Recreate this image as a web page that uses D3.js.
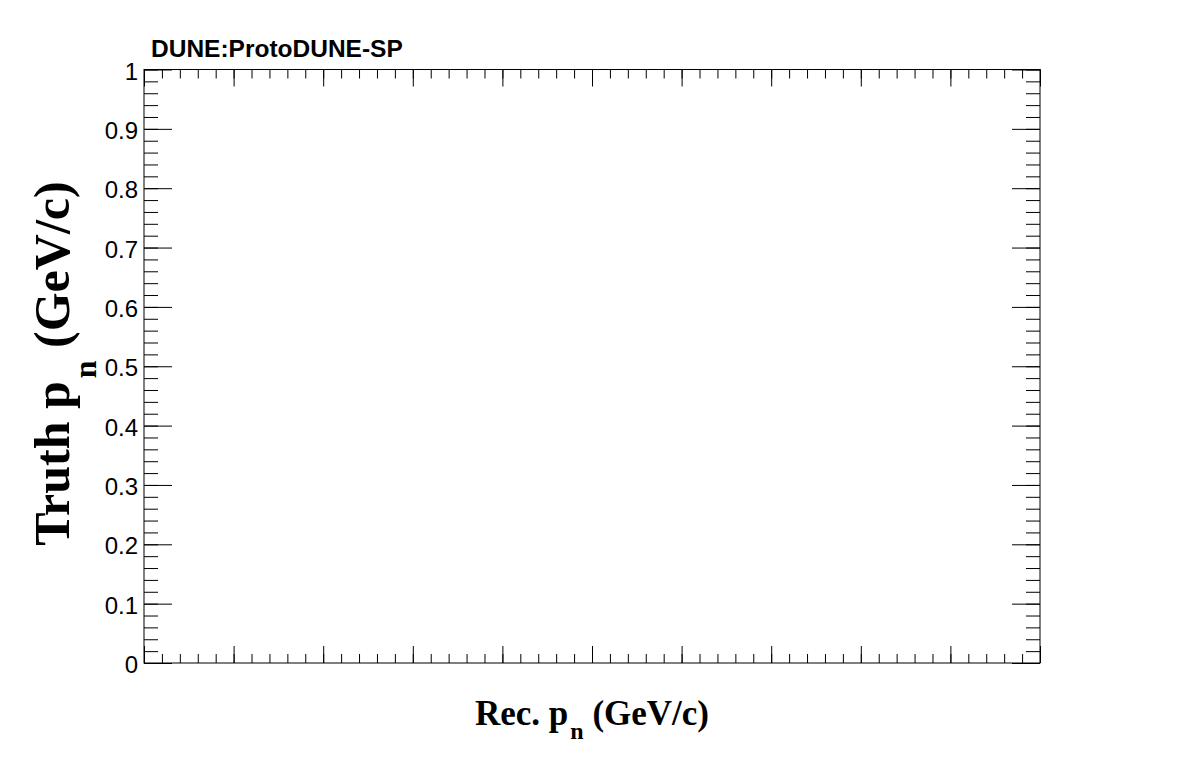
<!DOCTYPE html>
<html>
<head>
<meta charset="utf-8">
<script src="https://cdn.jsdelivr.net/npm/d3@7"></script>
<style>
  html, body { margin: 0; padding: 0; background: #fff; }
  svg { display: block; }
</style>
</head>
<body>
<svg id="chart" width="1196" height="772"></svg>
<script>
// ---- data ----
const xDomain = [0, 1];
const yDomain = [0, 1];
const xMajorTicks = [0, 0.1, 0.2, 0.3, 0.4, 0.5, 0.6, 0.7, 0.8, 0.9, 1];
const xMinorTicks = d3.range(0, 51).map(i => i / 50);
const yMajorTicks = [0, 0.1, 0.2, 0.3, 0.4, 0.5, 0.6, 0.7, 0.8, 0.9, 1];
const yTickLabels = ["0", "0.1", "0.2", "0.3", "0.4", "0.5", "0.6", "0.7", "0.8", "0.9", "1"];
const yMinorTicks = d3.range(0, 51).map(i => i / 50);
const titleText = "DUNE:ProtoDUNE-SP";
const xTitle = ["Rec. p", "n", " (GeV/c)"];
const yTitle = ["Truth p", "n", " (GeV/c)"];

// ---- layout ----
const m = { left: 144, top: 69.5, right: 1040, bottom: 663 };
const svg = d3.select("#chart");

const x = d3.scaleLinear().domain(xDomain).range([m.left, m.right]);
const y = d3.scaleLinear().domain(yDomain).range([m.bottom, m.top]);

const g = svg.append("g");

function styleAxis(sel) {
  sel.select(".domain").remove();
  sel.selectAll(".tick line").attr("stroke", "#000").attr("stroke-width", 1);
}

// bottom x axis (ticks inward)
g.append("g").attr("transform", `translate(0,${m.bottom})`)
  .call(d3.axisBottom(x).tickValues(xMinorTicks).tickSize(-9).tickFormat(""))
  .call(styleAxis);
g.append("g").attr("transform", `translate(0,${m.bottom})`)
  .call(d3.axisBottom(x).tickValues(xMajorTicks).tickSize(-17).tickFormat(""))
  .call(styleAxis);
// top x axis
g.append("g").attr("transform", `translate(0,${m.top})`)
  .call(d3.axisTop(x).tickValues(xMinorTicks).tickSize(-9).tickFormat(""))
  .call(styleAxis);
g.append("g").attr("transform", `translate(0,${m.top})`)
  .call(d3.axisTop(x).tickValues(xMajorTicks).tickSize(-17).tickFormat(""))
  .call(styleAxis);

// left y axis
g.append("g").attr("transform", `translate(${m.left},0)`)
  .call(d3.axisLeft(y).tickValues(yMinorTicks).tickSize(-14).tickFormat(""))
  .call(styleAxis);
const yl = g.append("g").attr("transform", `translate(${m.left},0)`)
  .call(d3.axisLeft(y).tickValues(yMajorTicks).tickSize(-28).tickPadding(6)
    .tickFormat((d, i) => yTickLabels[i]))
  .call(styleAxis);
yl.selectAll(".tick text")
  .attr("font-family", "'Liberation Sans', Arial, sans-serif")
  .attr("font-size", 24)
  .attr("fill", "#000")
  .attr("dy", "0.40em");
// right y axis
g.append("g").attr("transform", `translate(${m.right},0)`)
  .call(d3.axisRight(y).tickValues(yMinorTicks).tickSize(-14).tickFormat(""))
  .call(styleAxis);
g.append("g").attr("transform", `translate(${m.right},0)`)
  .call(d3.axisRight(y).tickValues(yMajorTicks).tickSize(-28).tickFormat(""))
  .call(styleAxis);

// frame
g.append("rect")
  .attr("x", m.left).attr("y", m.top)
  .attr("width", m.right - m.left).attr("height", m.bottom - m.top)
  .attr("fill", "none").attr("stroke", "#000").attr("stroke-width", 1);

// title
svg.append("text")
  .attr("x", 151).attr("y", 57)
  .attr("font-family", "'Liberation Sans', Arial, sans-serif")
  .attr("font-weight", "bold").attr("font-size", 24.5)
  .attr("fill", "#000")
  .text(titleText);

// x title
const xt = svg.append("text")
  .attr("transform", `translate(${(m.left + m.right) / 2},725)`)
  .attr("text-anchor", "middle")
  .attr("font-family", "'Liberation Serif', 'Times New Roman', serif")
  .attr("font-weight", "bold").attr("font-size", 35).attr("fill", "#000");
xt.append("tspan").text(xTitle[0]);
xt.append("tspan").attr("font-size", 24).attr("dx", 2).attr("dy", 14).text(xTitle[1]);
xt.append("tspan").attr("dy", -14).style("white-space", "pre").text(xTitle[2]);

// y title
const ytl = svg.append("text")
  .attr("transform", `translate(69,363.5) rotate(-90)`)
  .attr("text-anchor", "middle")
  .attr("font-family", "'Liberation Serif', 'Times New Roman', serif")
  .attr("font-weight", "bold").attr("font-size", 50).attr("fill", "#000");
ytl.append("tspan").text(yTitle[0]);
ytl.append("tspan").attr("font-size", 32).attr("dx", 3).attr("dy", 27).text(yTitle[1]);
ytl.append("tspan").attr("dy", -27).style("white-space", "pre").text(yTitle[2]);
</script>
</body>
</html>
